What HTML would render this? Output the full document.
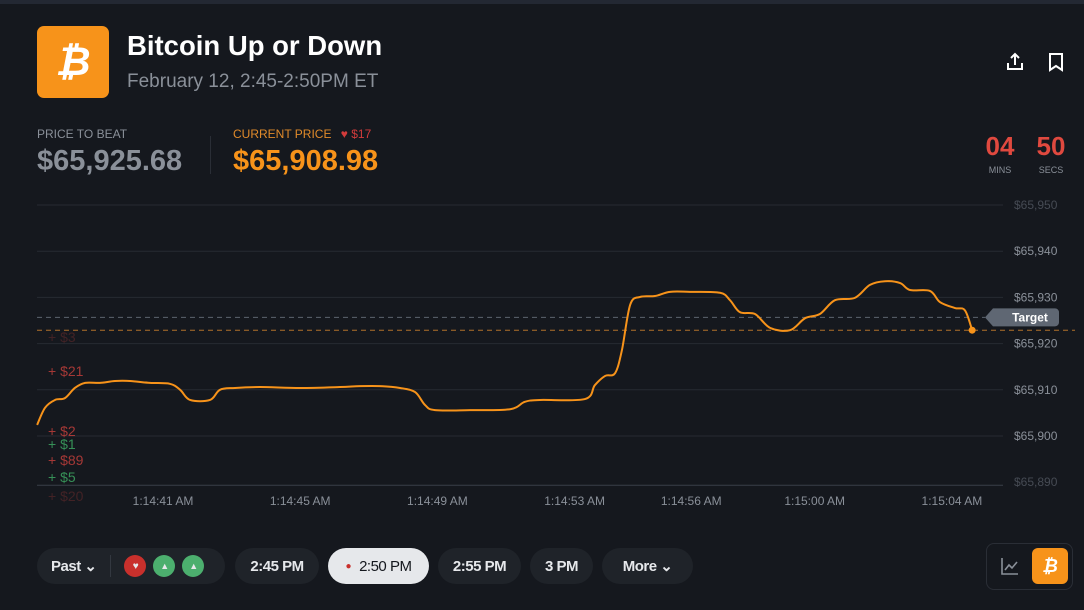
<!DOCTYPE html>
<html><head><meta charset="utf-8">
<style>
*{margin:0;padding:0;box-sizing:border-box}
body{width:1084px;height:610px;background:#15181e;font-family:"Liberation Sans",sans-serif;position:relative;overflow:hidden;color:#fff}
.abs{position:absolute}
.pill{position:absolute;top:548px;height:36px;border-radius:18px;background:#1f2329;color:#e6e8eb;font-size:15px;font-weight:bold;display:flex;align-items:center;justify-content:center;letter-spacing:-0.5px}
</style></head><body>
<div class="abs" style="left:0;top:0;width:1084px;height:4px;background:#232833"></div>
<div class="abs" style="left:37px;top:26px;width:72px;height:72px;border-radius:7px;background:#f7931a;color:#fff;font-size:40px;font-weight:bold;display:flex;align-items:center;justify-content:center;font-style:italic">₿</div>
<div class="abs" style="left:127px;top:30px;font-size:27.5px;font-weight:bold">Bitcoin Up or Down</div>
<div class="abs" style="left:127px;top:71px;font-size:19px;color:#8a9099">February 12, 2:45-2:50PM ET</div>
<svg class="abs" style="left:1005px;top:52px" width="20" height="20" viewBox="0 0 20 20"><path d="M10 13V2M6 6l4-4 4 4M3 11v6h14v-6" stroke="#fff" stroke-width="2" fill="none"/></svg>
<svg class="abs" style="left:1047px;top:52px" width="18" height="20" viewBox="0 0 18 20"><path d="M3 2h12v16l-6-4-6 4z" stroke="#fff" stroke-width="2" fill="none"/></svg>
<div class="abs" style="left:37px;top:127px;font-size:12px;color:#8a9099">PRICE TO BEAT</div>
<div class="abs" style="left:37px;top:145px;font-size:29px;font-weight:bold;color:#8a9099">$65,925.68</div>
<div class="abs" style="left:210px;top:136px;width:1px;height:38px;background:#2a2e36"></div>
<div class="abs" style="left:233px;top:127px;font-size:12px;color:#e08a2a">CURRENT PRICE <span style="color:#d23b3b;margin-left:6px">♥ $17</span></div>
<div class="abs" style="left:233px;top:145px;font-size:29px;font-weight:bold;color:#f7931a">$65,908.98</div>
<div class="abs" style="left:982px;top:131px;width:36px;text-align:center;font-size:26px;font-weight:bold;color:#e0493f">04</div>
<div class="abs" style="left:982px;top:165px;width:36px;text-align:center;font-size:9px;color:#8a9099">MINS</div>
<div class="abs" style="left:1033px;top:131px;width:36px;text-align:center;font-size:26px;font-weight:bold;color:#e0493f">50</div>
<div class="abs" style="left:1033px;top:165px;width:36px;text-align:center;font-size:9px;color:#8a9099">SECS</div>

<svg id="chart" class="abs" style="left:0;top:0" width="1084" height="520"></svg>

<div class="pill" style="left:37px;width:188px;justify-content:flex-start;padding-left:14px">Past ⌄
<span style="width:1px;height:22px;background:#333840;margin:0 13px 0 14px"></span>
<span style="width:22px;height:22px;border-radius:11px;background:#c9302c;display:inline-flex;align-items:center;justify-content:center;font-size:10px;margin-right:7px">♥</span>
<span style="width:22px;height:22px;border-radius:11px;background:#4caf6e;display:inline-flex;align-items:center;justify-content:center;font-size:9px;margin-right:7px">▲</span>
<span style="width:22px;height:22px;border-radius:11px;background:#4caf6e;display:inline-flex;align-items:center;justify-content:center;font-size:9px">▲</span></div>
<div class="pill" style="left:235px;width:84px">2:45 PM</div>
<div class="pill" style="left:328px;width:101px;background:#e6e8eb;color:#15181e;font-weight:normal"><span style="color:#c9302c;margin-right:8px;font-size:10px">●</span>2:50 PM</div>
<div class="pill" style="left:438px;width:83px">2:55 PM</div>
<div class="pill" style="left:530px;width:63px">3 PM</div>
<div class="pill" style="left:602px;width:91px">More ⌄</div>
<div class="abs" style="left:986px;top:543px;width:87px;height:47px;border:1px solid #2a2e36;border-radius:8px"></div>
<svg class="abs" style="left:1000px;top:556px" width="20" height="20" viewBox="0 0 20 20"><path d="M2 2v16h16M5 14l4-5 3 3 5-6" stroke="#8a9099" stroke-width="1.6" fill="none"/></svg>
<div class="abs" style="left:1032px;top:548px;width:36px;height:36px;border-radius:6px;background:#f7931a;color:#fff;font-weight:bold;font-size:18px;display:flex;align-items:center;justify-content:center;font-style:italic">₿</div>

<script>
const yTicks=[65950,65940,65930,65920,65910,65900,65890];
const yTickLabels=["$65,950","$65,940","$65,930","$65,920","$65,910","$65,900","$65,890"];
const xTickTimes=[41,45,49,53,56.4,60,64];
const xTickLabels=["1:14:41 AM","1:14:45 AM","1:14:49 AM","1:14:53 AM","1:14:56 AM","1:15:00 AM","1:15:04 AM"];
const times=[37.33,37.56,37.85,38.14,38.43,38.73,39.16,39.6,40.04,40.62,41.2,41.5,41.79,42.37,42.66,43.1,43.83,45,46.16,46.74,47.33,47.91,48.35,48.64,48.93,49.95,51.12,51.55,51.99,53.3,53.59,53.89,54.18,54.38,54.62,54.91,55.34,55.78,56.36,57.24,57.53,57.82,58.26,58.7,59.28,59.72,60.15,60.59,61.17,61.61,62.05,62.49,62.78,63.36,63.65,64.09,64.38,64.59];
const prices=[65902.4,65906.1,65907.8,65908.2,65910.4,65911.5,65911.5,65911.9,65911.9,65911.5,65911.3,65910,65907.8,65907.8,65910,65910.4,65910.6,65910.4,65910.6,65910.8,65910.8,65910.4,65909.5,65906.7,65905.6,65905.6,65905.8,65907.4,65907.8,65908,65911,65913,65913.6,65918.6,65928.4,65930.1,65930.3,65931.2,65931.2,65931,65929.4,65926.8,65926.4,65923.4,65922.9,65925.5,65926.4,65929.4,65929.9,65932.7,65933.5,65933.1,65931.6,65931.4,65929,65927.7,65927.2,65922.9];
const targetPrice=65925.68;
const tradeLabels=["+ $3","+ $21","+ $2","+ $1","+ $89","+ $5","+ $20"];
const tradeSides=["down","down","down","up","down","up","down"];
const tradeOpacity=[0.25,0.8,0.8,0.8,0.8,0.8,0.25];
const tradeRows=[337,371,431,444,460,477,496];

const svg=document.getElementById('chart');
const NS='http://www.w3.org/2000/svg';
const y=v=>205+(65950-v)*4.62;
const x=t=>163+(t-41)*34.3;
function mk(tag,attrs){const e=document.createElementNS(NS,tag);for(const k in attrs)e.setAttribute(k,attrs[k]);svg.appendChild(e);return e;}
yTicks.forEach((v,i)=>{
  const l=mk('line',{x1:37,x2:1003,y1:y(v)+(i==6?3:0),y2:y(v)+(i==6?3:0),stroke:i==6?'#3a3f48':'#262a32','stroke-width':1});
  
  
  const t=mk('text',{x:1014,y:y(v)+4,fill:(i==0||i==6)?'#464b54':'#8a9099','font-size':12});
  t.textContent=yTickLabels[i];
  
  
});
xTickTimes.forEach((tt,i)=>{
  const t=mk('text',{x:x(tt),y:505,fill:'#8a9099','font-size':12,'text-anchor':'middle'});
  t.textContent=xTickLabels[i];
  
  
});
const tl=mk('line',{x1:37,x2:985,y1:y(targetPrice),y2:y(targetPrice),stroke:'#5c636e','stroke-dasharray':'5,4'});


const last=prices[prices.length-1];
const cl=mk('line',{x1:37,x2:1075,y1:y(last),y2:y(last),stroke:'#b0702a','stroke-dasharray':'5,4'});


const tg=mk('path',{d:`M985 ${y(targetPrice)} l8 -9 h62 a4 4 0 0 1 4 4 v10 a4 4 0 0 1 -4 4 h-62 z`,fill:'#5f6773'});


const tgt=mk('text',{x:1030,y:y(targetPrice)+4,fill:'#fff','font-size':12,'font-weight':'bold','text-anchor':'middle'});
tgt.textContent='Target';


tradeLabels.forEach((lb,i)=>{
  const t=mk('text',{x:48,y:tradeRows[i]+5,fill:tradeSides[i]=='up'?'#3fae66':'#c9403c','font-size':14,opacity:tradeOpacity[i]});
  t.textContent=lb;
  
  
});
const P=times.map((t,i)=>[x(t),y(prices[i])]);
let d=`M${P[0][0]} ${P[0][1]}`;
for(let i=0;i<P.length-1;i++){
  const p0=P[Math.max(0,i-1)],p1=P[i],p2=P[i+1],p3=P[Math.min(P.length-1,i+2)];
  const c1=[p1[0]+(p2[0]-p0[0])/6,p1[1]+(p2[1]-p0[1])/6];
  const c2=[p2[0]-(p3[0]-p1[0])/6,p2[1]-(p3[1]-p1[1])/6];
  d+=` C${c1[0]} ${c1[1]} ${c2[0]} ${c2[1]} ${p2[0]} ${p2[1]}`;
}
const ln=mk('path',{d:d,stroke:'#f7931a','stroke-width':2,fill:'none'});


const dot=mk('circle',{cx:P[P.length-1][0],cy:P[P.length-1][1],r:3.5,fill:'#f7931a'});


</script>
</body></html>
